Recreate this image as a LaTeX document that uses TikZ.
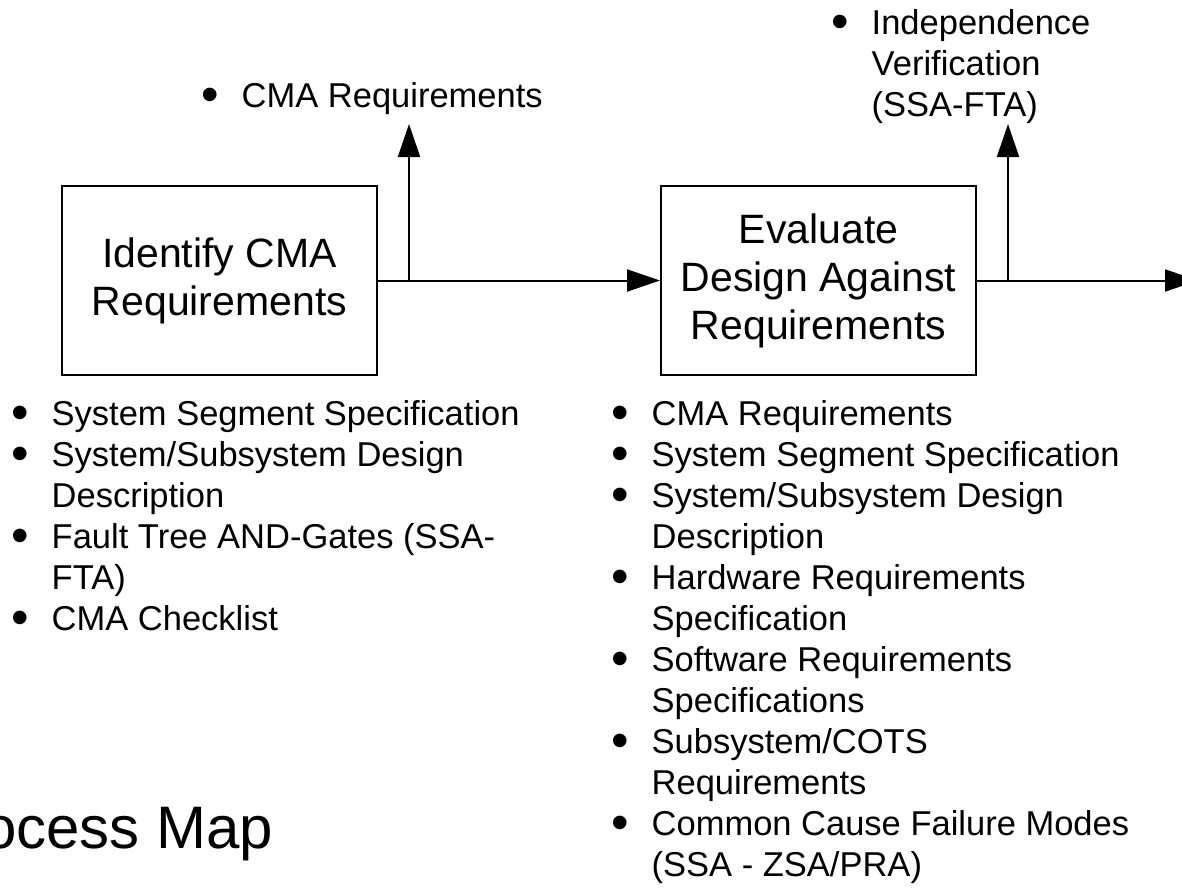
\documentclass[tikz,border=0pt]{standalone}
\usepackage{fontspec}
\setmainfont{Liberation Sans}
\usetikzlibrary{arrows.meta}
\newcommand\bulletlist[1]{\begin{tabular}[t]{@{}c@{\hspace{23pt}}l@{}}#1\end{tabular}}
\newcommand\bigbul{\smash{\fontsize{50}{41}\selectfont\raisebox{-4pt}{\textbullet}}}
\tikzset{
  proc/.style={draw, line width=2pt, minimum width=315pt, minimum height=189pt,
    inner sep=0pt, align=center, font=\fontsize{41}{48}\selectfont},
  lst/.style={inner sep=0pt, anchor=base west, font=\fontsize{34.5}{41}\selectfont},
  conn/.style={line width=2pt},
  arr/.style={conn, -{Triangle[length=33pt,width=22pt]}},
}
\begin{document}
\begin{tikzpicture}[x=1pt, y=-1pt]
  \useasboundingbox (0,0) rectangle (1182,892);
  % process boxes
  \node[proc] (b1) at (219.5,280.5) {Identify CMA\\Requirements};
  \node[proc] (b2) at (818.5,280.5) {Evaluate\\Design Against\\Requirements};
  % junctions and free ends
  \coordinate (j1) at (409,280.5);
  \coordinate (j2) at (1008,280.5);
  \coordinate (t1) at (409,124);
  \coordinate (t2) at (1008,124);
  \coordinate (e) at (1198,280.5);
  % connectors
  \draw[conn] (b1.east) -- (j1);
  \draw[arr] (j1) -- (b2.west);
  \draw[arr] (j1) -- (t1);
  \draw[conn] (b2.east) -- (j2);
  \draw[arr] (j2) -- (t2);
  \draw[arr] (j2) -- (e);
  % output labels
  \node[lst] (o1) at (201,107) {\bulletlist{\bigbul & CMA Requirements}};
  \node[lst] (o2) at (831,34) {\bulletlist{\bigbul & Independence\\ & Verification\\ & (SSA-FTA)}};
  % input lists
  \node[lst] (i1) at (11,425) {\bulletlist{%
    \bigbul & System Segment Specification\\
    \bigbul & System/Subsystem Design\\
     & Description\\
    \bigbul & Fault Tree AND-Gates (SSA-\\
     & FTA)\\
    \bigbul & CMA Checklist}};
  \node[lst] (i2) at (611,425) {\bulletlist{%
    \bigbul & CMA Requirements\\
    \bigbul & System Segment Specification\\
    \bigbul & System/Subsystem Design\\
     & Description\\
    \bigbul & Hardware Requirements\\
     & Specification\\
    \bigbul & Software Requirements\\
     & Specifications\\
    \bigbul & Subsystem/COTS\\
     & Requirements\\
    \bigbul & Common Cause Failure Modes\\
     & (SSA - ZSA/PRA)}};
  % cut-off title
  \node[inner sep=0pt, anchor=base west, font=\fontsize{60}{70}\selectfont] (title) at (-77,848) {Process Map};
\end{tikzpicture}
\end{document}
